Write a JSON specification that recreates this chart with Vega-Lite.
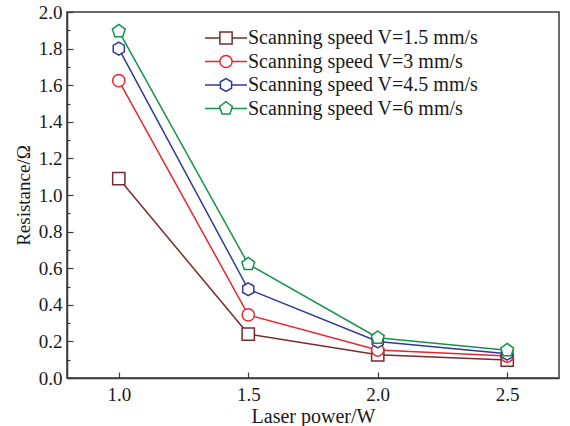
{
  "$schema": "https://vega.github.io/schema/vega-lite/v6.json",
  "width": 492,
  "height": 366,
  "autosize": "none",
  "padding": {"left": 67, "top": 12, "right": 11, "bottom": 48},
  "background": "white",
  "data": {
    "values": [
      {"power": 1.0, "R": 1.09, "speed": "1.5", "series": "Scanning speed V=1.5 mm/s"},
      {"power": 1.5, "R": 0.24, "speed": "1.5", "series": "Scanning speed V=1.5 mm/s"},
      {"power": 2.0, "R": 0.127, "speed": "1.5", "series": "Scanning speed V=1.5 mm/s"},
      {"power": 2.5, "R": 0.098, "speed": "1.5", "series": "Scanning speed V=1.5 mm/s"},
      {"power": 1.0, "R": 1.625, "speed": "3", "series": "Scanning speed V=3 mm/s"},
      {"power": 1.5, "R": 0.345, "speed": "3", "series": "Scanning speed V=3 mm/s"},
      {"power": 2.0, "R": 0.153, "speed": "3", "series": "Scanning speed V=3 mm/s"},
      {"power": 2.5, "R": 0.12, "speed": "3", "series": "Scanning speed V=3 mm/s"},
      {"power": 1.0, "R": 1.80, "speed": "4.5", "series": "Scanning speed V=4.5 mm/s"},
      {"power": 1.5, "R": 0.485, "speed": "4.5", "series": "Scanning speed V=4.5 mm/s"},
      {"power": 2.0, "R": 0.20, "speed": "4.5", "series": "Scanning speed V=4.5 mm/s"},
      {"power": 2.5, "R": 0.133, "speed": "4.5", "series": "Scanning speed V=4.5 mm/s"},
      {"power": 1.0, "R": 1.895, "speed": "6", "series": "Scanning speed V=6 mm/s"},
      {"power": 1.5, "R": 0.622, "speed": "6", "series": "Scanning speed V=6 mm/s"},
      {"power": 2.0, "R": 0.22, "speed": "6", "series": "Scanning speed V=6 mm/s"},
      {"power": 2.5, "R": 0.152, "speed": "6", "series": "Scanning speed V=6 mm/s"}
    ]
  },
  "encoding": {
    "x": {
      "field": "power",
      "type": "quantitative",
      "scale": {"domain": [0.8, 2.7], "nice": false, "zero": false},
      "axis": {
        "title": "Laser power/W",
        "values": [1.0, 1.5, 2.0, 2.5],
        "format": ".1f",
        "tickSize": -6,
        "labelPadding": 13,
        "titlePadding": 2
      }
    },
    "y": {
      "field": "R",
      "type": "quantitative",
      "scale": {"domain": [0, 2.0], "nice": false},
      "axis": {
        "title": "Resistance/Ω",
        "values": [0, 0.1, 0.2, 0.3, 0.4, 0.5, 0.6, 0.7, 0.8, 0.9, 1.0, 1.1, 1.2, 1.3, 1.4, 1.5, 1.6, 1.7, 1.8, 1.9, 2.0],
        "labelExpr": "round(datum.value*10) % 2 == 0 ? format(datum.value, '.1f') : ''",
        "tickSize": {"condition": {"test": "round(datum.value*10) % 2 == 1", "value": -3}, "value": -6},
        "labelPadding": 11,
        "titlePadding": 5,
        "titleFontSize": 19
      }
    }
  },
  "layer": [
    {
      "mark": {"type": "line", "strokeWidth": 1.5},
      "encoding": {
        "color": {
          "field": "series",
          "type": "nominal",
          "scale": {
            "domain": ["Scanning speed V=1.5 mm/s", "Scanning speed V=3 mm/s", "Scanning speed V=4.5 mm/s", "Scanning speed V=6 mm/s"],
            "range": ["#7a2a2a", "#e8272d", "#2e3a97", "#17924a"]
          },
          "legend": {
            "title": null,
            "orient": "none",
            "legendX": 149,
            "legendY": 16,
            "padding": 0,
            "symbolType": "M-3.5,0H3.5",
            "symbolSize": 144,
            "symbolStrokeWidth": 1.5,
            "symbolFillColor": "transparent",
            "labelOffset": 12,
            "labelFont": "Liberation Serif",
            "labelFontSize": 20,
            "labelColor": "#1a1a1a",
            "labelLimit": 400,
            "rowPadding": 3.5
          }
        }
      }
    },
    {
      "mark": {"type": "point", "filled": false, "fill": "white", "opacity": 1, "strokeWidth": 1.5, "size": 150},
      "encoding": {
        "stroke": {
          "field": "speed",
          "type": "nominal",
          "scale": {
            "domain": ["1.5", "3", "4.5", "6"],
            "range": ["#7a2a2a", "#e8272d", "#2e3a97", "#17924a"]
          },
          "legend": {
            "title": null,
            "orient": "none",
            "legendX": 149,
            "legendY": 16,
            "padding": 0,
            "symbolSize": 150,
            "symbolStrokeWidth": 1.5,
            "symbolFillColor": "white",
            "labelExpr": "''",
            "labelFont": "Liberation Serif",
            "labelFontSize": 20,
            "rowPadding": 3.5
          }
        },
        "shape": {
          "field": "speed",
          "type": "nominal",
          "scale": {
            "domain": ["1.5", "3", "4.5", "6"],
            "range": ["square", "circle", "M0,-1.05L0.91,-0.525L0.91,0.525L0,1.05L-0.91,0.525L-0.91,-0.525Z", "M0,-1.1L1.046,-0.34L0.647,0.89L-0.647,0.89L-1.046,-0.34Z"]
          },
          "legend": {
            "title": null,
            "orient": "none",
            "legendX": 149,
            "legendY": 16,
            "padding": 0,
            "symbolSize": 150,
            "symbolStrokeWidth": 1.5,
            "symbolFillColor": "white",
            "labelExpr": "''",
            "labelFont": "Liberation Serif",
            "labelFontSize": 20,
            "rowPadding": 3.5
          }
        }
      }
    }
  ],
  "config": {
    "view": {"stroke": "#3a3a3a", "strokeWidth": 1.5},
    "legend": {"labelFont": "Liberation Serif", "labelFontSize": 20, "labelColor": "#1a1a1a"},
    "axis": {
      "domainColor": "#3a3a3a",
      "domainWidth": 1.5,
      "tickColor": "#3a3a3a",
      "tickWidth": 1.2,
      "grid": false,
      "labelFont": "Liberation Serif",
      "labelFontSize": 19,
      "labelColor": "#1a1a1a",
      "titleFont": "Liberation Serif",
      "titleFontSize": 20,
      "titleFontWeight": "normal",
      "titleColor": "#1a1a1a"
    }
  }
}
